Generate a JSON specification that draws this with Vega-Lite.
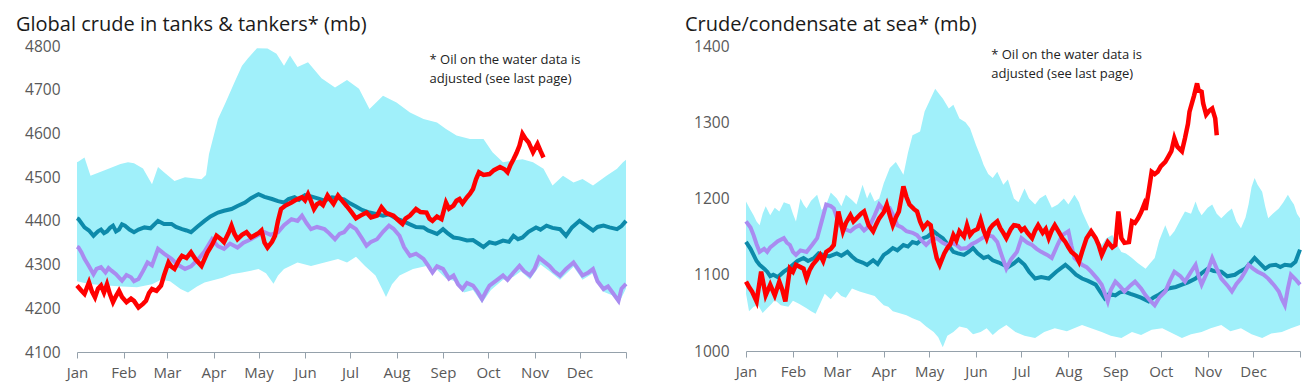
{
"$schema": "https://vega.github.io/schema/vega-lite/v6.json",
"background": "white",
"padding": {"left": 16, "top": 15, "right": 5, "bottom": 5},
"spacing": 51,
"config": {"view": {"stroke": null}, "font": "Open Sans",
 "axisX": {"title": null, "grid": false, "domainColor": "#95a1ab", "tickColor": "#95a1ab", "tickSize": 6, "labelFontSize": 15, "labelColor": "#595959", "labelPadding": 7, "labelFlush": false, "zindex": 1},
 "axisY": {"title": null, "grid": false, "domain": false, "ticks": false, "labelFontSize": 15.5, "labelColor": "#595959", "labelPadding": 17, "minExtent": 60, "maxExtent": 60, "format": "d"}
},
"datasets": {
"L": [
{"s":"hi","d":0,"v":4534},{"s":"hi","d":1,"v":4536},{"s":"hi","d":5,"v":4545},{"s":"hi","d":9,"v":4503},{"s":"hi","d":18,"v":4515},{"s":"hi","d":29,"v":4530},{"s":"hi","d":34,"v":4534},{"s":"hi","d":38,"v":4532},{"s":"hi","d":44,"v":4520},{"s":"hi","d":50,"v":4484},{"s":"hi","d":54,"v":4523},{"s":"hi","d":58,"v":4511},{"s":"hi","d":65,"v":4491},{"s":"hi","d":72,"v":4500},{"s":"hi","d":83,"v":4495},{"s":"hi","d":86,"v":4505},{"s":"hi","d":88,"v":4553},{"s":"hi","d":94,"v":4633},{"s":"hi","d":99,"v":4670},{"s":"hi","d":105,"v":4717},{"s":"hi","d":110,"v":4755},{"s":"hi","d":114,"v":4772},{"s":"hi","d":120,"v":4795},{"s":"hi","d":127,"v":4794},{"s":"hi","d":133,"v":4782},{"s":"hi","d":138,"v":4755},{"s":"hi","d":142,"v":4778},{"s":"hi","d":147,"v":4752},{"s":"hi","d":154,"v":4763},{"s":"hi","d":163,"v":4726},{"s":"hi","d":172,"v":4705},{"s":"hi","d":180,"v":4722},{"s":"hi","d":188,"v":4702},{"s":"hi","d":195,"v":4656},{"s":"hi","d":204,"v":4686},{"s":"hi","d":213,"v":4671},{"s":"hi","d":222,"v":4648},{"s":"hi","d":231,"v":4633},{"s":"hi","d":240,"v":4625},{"s":"hi","d":246,"v":4610},{"s":"hi","d":253,"v":4595},{"s":"hi","d":262,"v":4587},{"s":"hi","d":271,"v":4587},{"s":"hi","d":277,"v":4557},{"s":"hi","d":284,"v":4534},{"s":"hi","d":291,"v":4538},{"s":"hi","d":297,"v":4541},{"s":"hi","d":304,"v":4534},{"s":"hi","d":311,"v":4519},{"s":"hi","d":317,"v":4481},{"s":"hi","d":324,"v":4503},{"s":"hi","d":331,"v":4488},{"s":"hi","d":337,"v":4496},{"s":"hi","d":344,"v":4481},{"s":"hi","d":353,"v":4503},{"s":"hi","d":360,"v":4519},{"s":"hi","d":364,"v":4534},{"s":"hi","d":366,"v":4540},
{"s":"lo","d":0,"v":4262},{"s":"lo","d":5,"v":4258},{"s":"lo","d":10,"v":4255},{"s":"lo","d":20,"v":4252},{"s":"lo","d":30,"v":4250},{"s":"lo","d":40,"v":4248},{"s":"lo","d":50,"v":4255},{"s":"lo","d":56,"v":4265},{"s":"lo","d":62,"v":4262},{"s":"lo","d":69,"v":4244},{"s":"lo","d":74,"v":4236},{"s":"lo","d":80,"v":4250},{"s":"lo","d":85,"v":4259},{"s":"lo","d":92,"v":4265},{"s":"lo","d":97,"v":4270},{"s":"lo","d":103,"v":4278},{"s":"lo","d":110,"v":4282},{"s":"lo","d":116,"v":4286},{"s":"lo","d":121,"v":4290},{"s":"lo","d":126,"v":4280},{"s":"lo","d":131,"v":4256},{"s":"lo","d":134,"v":4275},{"s":"lo","d":138,"v":4290},{"s":"lo","d":147,"v":4305},{"s":"lo","d":156,"v":4297},{"s":"lo","d":165,"v":4305},{"s":"lo","d":174,"v":4313},{"s":"lo","d":180,"v":4305},{"s":"lo","d":186,"v":4318},{"s":"lo","d":192,"v":4297},{"s":"lo","d":199,"v":4275},{"s":"lo","d":204,"v":4240},{"s":"lo","d":206,"v":4226},{"s":"lo","d":210,"v":4255},{"s":"lo","d":215,"v":4275},{"s":"lo","d":224,"v":4290},{"s":"lo","d":233,"v":4297},{"s":"lo","d":240,"v":4288},{"s":"lo","d":246,"v":4268},{"s":"lo","d":252,"v":4262},{"s":"lo","d":258,"v":4236},{"s":"lo","d":264,"v":4242},{"s":"lo","d":270,"v":4212},{"s":"lo","d":276,"v":4242},{"s":"lo","d":284,"v":4265},{"s":"lo","d":291,"v":4272},{"s":"lo","d":296,"v":4285},{"s":"lo","d":302,"v":4266},{"s":"lo","d":309,"v":4300},{"s":"lo","d":315,"v":4285},{"s":"lo","d":322,"v":4265},{"s":"lo","d":331,"v":4295},{"s":"lo","d":337,"v":4265},{"s":"lo","d":344,"v":4280},{"s":"lo","d":351,"v":4238},{"s":"lo","d":358,"v":4228},{"s":"lo","d":361,"v":4210},{"s":"lo","d":366,"v":4245},
{"s":"avg","d":0,"v":4406},{"s":"avg","d":1,"v":4404},{"s":"avg","d":5,"v":4385},{"s":"avg","d":8,"v":4378},{"s":"avg","d":11,"v":4366},{"s":"avg","d":14,"v":4376},{"s":"avg","d":16,"v":4380},{"s":"avg","d":18,"v":4372},{"s":"avg","d":20,"v":4376},{"s":"avg","d":22,"v":4384},{"s":"avg","d":24,"v":4389},{"s":"avg","d":26,"v":4376},{"s":"avg","d":28,"v":4380},{"s":"avg","d":30,"v":4392},{"s":"avg","d":32,"v":4389},{"s":"avg","d":35,"v":4380},{"s":"avg","d":38,"v":4374},{"s":"avg","d":41,"v":4380},{"s":"avg","d":45,"v":4385},{"s":"avg","d":49,"v":4383},{"s":"avg","d":54,"v":4400},{"s":"avg","d":58,"v":4393},{"s":"avg","d":63,"v":4393},{"s":"avg","d":66,"v":4386},{"s":"avg","d":70,"v":4381},{"s":"avg","d":73,"v":4378},{"s":"avg","d":76,"v":4374},{"s":"avg","d":80,"v":4386},{"s":"avg","d":85,"v":4400},{"s":"avg","d":89,"v":4410},{"s":"avg","d":94,"v":4419},{"s":"avg","d":98,"v":4423},{"s":"avg","d":103,"v":4427},{"s":"avg","d":107,"v":4434},{"s":"avg","d":112,"v":4442},{"s":"avg","d":116,"v":4452},{"s":"avg","d":121,"v":4461},{"s":"avg","d":125,"v":4455},{"s":"avg","d":130,"v":4450},{"s":"avg","d":134,"v":4445},{"s":"avg","d":138,"v":4442},{"s":"avg","d":141,"v":4450},{"s":"avg","d":145,"v":4454},{"s":"avg","d":148,"v":4448},{"s":"avg","d":152,"v":4459},{"s":"avg","d":156,"v":4456},{"s":"avg","d":161,"v":4451},{"s":"avg","d":165,"v":4446},{"s":"avg","d":170,"v":4454},{"s":"avg","d":174,"v":4452},{"s":"avg","d":178,"v":4449},{"s":"avg","d":182,"v":4440},{"s":"avg","d":186,"v":4433},{"s":"avg","d":190,"v":4425},{"s":"avg","d":195,"v":4419},{"s":"avg","d":200,"v":4415},{"s":"avg","d":204,"v":4412},{"s":"avg","d":208,"v":4415},{"s":"avg","d":213,"v":4405},{"s":"avg","d":217,"v":4400},{"s":"avg","d":222,"v":4392},{"s":"avg","d":226,"v":4386},{"s":"avg","d":231,"v":4385},{"s":"avg","d":234,"v":4378},{"s":"avg","d":237,"v":4374},{"s":"avg","d":240,"v":4370},{"s":"avg","d":244,"v":4381},{"s":"avg","d":247,"v":4372},{"s":"avg","d":251,"v":4362},{"s":"avg","d":255,"v":4360},{"s":"avg","d":260,"v":4355},{"s":"avg","d":264,"v":4356},{"s":"avg","d":268,"v":4347},{"s":"avg","d":271,"v":4340},{"s":"avg","d":275,"v":4351},{"s":"avg","d":279,"v":4348},{"s":"avg","d":284,"v":4355},{"s":"avg","d":288,"v":4352},{"s":"avg","d":291,"v":4366},{"s":"avg","d":294,"v":4358},{"s":"avg","d":297,"v":4362},{"s":"avg","d":301,"v":4375},{"s":"avg","d":306,"v":4385},{"s":"avg","d":309,"v":4380},{"s":"avg","d":313,"v":4389},{"s":"avg","d":317,"v":4384},{"s":"avg","d":322,"v":4381},{"s":"avg","d":326,"v":4366},{"s":"avg","d":330,"v":4385},{"s":"avg","d":335,"v":4400},{"s":"avg","d":339,"v":4390},{"s":"avg","d":344,"v":4378},{"s":"avg","d":347,"v":4386},{"s":"avg","d":351,"v":4389},{"s":"avg","d":355,"v":4385},{"s":"avg","d":360,"v":4381},{"s":"avg","d":363,"v":4388},{"s":"avg","d":366,"v":4400},
{"s":"prev","d":0,"v":4341},{"s":"prev","d":1,"v":4339},{"s":"prev","d":3,"v":4328},{"s":"prev","d":5,"v":4313},{"s":"prev","d":8,"v":4296},{"s":"prev","d":11,"v":4278},{"s":"prev","d":13,"v":4290},{"s":"prev","d":16,"v":4294},{"s":"prev","d":19,"v":4282},{"s":"prev","d":21,"v":4292},{"s":"prev","d":23,"v":4286},{"s":"prev","d":26,"v":4278},{"s":"prev","d":30,"v":4263},{"s":"prev","d":33,"v":4276},{"s":"prev","d":36,"v":4271},{"s":"prev","d":38,"v":4262},{"s":"prev","d":41,"v":4267},{"s":"prev","d":44,"v":4285},{"s":"prev","d":47,"v":4305},{"s":"prev","d":50,"v":4298},{"s":"prev","d":54,"v":4336},{"s":"prev","d":58,"v":4325},{"s":"prev","d":63,"v":4313},{"s":"prev","d":67,"v":4300},{"s":"prev","d":72,"v":4290},{"s":"prev","d":76,"v":4296},{"s":"prev","d":81,"v":4313},{"s":"prev","d":85,"v":4330},{"s":"prev","d":90,"v":4358},{"s":"prev","d":94,"v":4342},{"s":"prev","d":98,"v":4336},{"s":"prev","d":102,"v":4348},{"s":"prev","d":107,"v":4339},{"s":"prev","d":111,"v":4350},{"s":"prev","d":116,"v":4358},{"s":"prev","d":120,"v":4366},{"s":"prev","d":125,"v":4374},{"s":"prev","d":129,"v":4368},{"s":"prev","d":134,"v":4374},{"s":"prev","d":138,"v":4390},{"s":"prev","d":143,"v":4404},{"s":"prev","d":147,"v":4400},{"s":"prev","d":150,"v":4412},{"s":"prev","d":153,"v":4395},{"s":"prev","d":156,"v":4381},{"s":"prev","d":160,"v":4386},{"s":"prev","d":165,"v":4381},{"s":"prev","d":168,"v":4372},{"s":"prev","d":172,"v":4358},{"s":"prev","d":175,"v":4370},{"s":"prev","d":178,"v":4374},{"s":"prev","d":182,"v":4390},{"s":"prev","d":186,"v":4381},{"s":"prev","d":190,"v":4360},{"s":"prev","d":193,"v":4343},{"s":"prev","d":196,"v":4352},{"s":"prev","d":200,"v":4358},{"s":"prev","d":204,"v":4375},{"s":"prev","d":208,"v":4389},{"s":"prev","d":211,"v":4382},{"s":"prev","d":215,"v":4366},{"s":"prev","d":218,"v":4340},{"s":"prev","d":222,"v":4320},{"s":"prev","d":226,"v":4325},{"s":"prev","d":231,"v":4313},{"s":"prev","d":234,"v":4298},{"s":"prev","d":237,"v":4282},{"s":"prev","d":240,"v":4296},{"s":"prev","d":244,"v":4290},{"s":"prev","d":248,"v":4268},{"s":"prev","d":251,"v":4275},{"s":"prev","d":254,"v":4255},{"s":"prev","d":257,"v":4244},{"s":"prev","d":260,"v":4258},{"s":"prev","d":264,"v":4252},{"s":"prev","d":267,"v":4238},{"s":"prev","d":270,"v":4221},{"s":"prev","d":273,"v":4240},{"s":"prev","d":275,"v":4252},{"s":"prev","d":279,"v":4262},{"s":"prev","d":284,"v":4275},{"s":"prev","d":287,"v":4265},{"s":"prev","d":291,"v":4282},{"s":"prev","d":295,"v":4297},{"s":"prev","d":298,"v":4285},{"s":"prev","d":302,"v":4275},{"s":"prev","d":305,"v":4290},{"s":"prev","d":308,"v":4316},{"s":"prev","d":312,"v":4305},{"s":"prev","d":315,"v":4297},{"s":"prev","d":318,"v":4285},{"s":"prev","d":322,"v":4275},{"s":"prev","d":326,"v":4290},{"s":"prev","d":331,"v":4305},{"s":"prev","d":334,"v":4290},{"s":"prev","d":337,"v":4275},{"s":"prev","d":341,"v":4282},{"s":"prev","d":344,"v":4290},{"s":"prev","d":347,"v":4262},{"s":"prev","d":351,"v":4244},{"s":"prev","d":354,"v":4250},{"s":"prev","d":357,"v":4236},{"s":"prev","d":361,"v":4217},{"s":"prev","d":363,"v":4245},{"s":"prev","d":366,"v":4256},
{"s":"cur","d":0,"v":4252},{"s":"cur","d":3,"v":4240},{"s":"cur","d":5,"v":4233},{"s":"cur","d":8,"v":4259},{"s":"cur","d":10,"v":4238},{"s":"cur","d":12,"v":4225},{"s":"cur","d":14,"v":4245},{"s":"cur","d":16,"v":4252},{"s":"cur","d":18,"v":4236},{"s":"cur","d":20,"v":4255},{"s":"cur","d":22,"v":4232},{"s":"cur","d":24,"v":4214},{"s":"cur","d":26,"v":4228},{"s":"cur","d":28,"v":4240},{"s":"cur","d":30,"v":4226},{"s":"cur","d":33,"v":4214},{"s":"cur","d":36,"v":4222},{"s":"cur","d":38,"v":4217},{"s":"cur","d":41,"v":4202},{"s":"cur","d":44,"v":4210},{"s":"cur","d":46,"v":4217},{"s":"cur","d":48,"v":4235},{"s":"cur","d":50,"v":4244},{"s":"cur","d":53,"v":4240},{"s":"cur","d":56,"v":4252},{"s":"cur","d":58,"v":4275},{"s":"cur","d":61,"v":4305},{"s":"cur","d":63,"v":4295},{"s":"cur","d":65,"v":4290},{"s":"cur","d":68,"v":4310},{"s":"cur","d":70,"v":4320},{"s":"cur","d":73,"v":4315},{"s":"cur","d":76,"v":4328},{"s":"cur","d":79,"v":4312},{"s":"cur","d":83,"v":4297},{"s":"cur","d":87,"v":4328},{"s":"cur","d":90,"v":4345},{"s":"cur","d":93,"v":4366},{"s":"cur","d":96,"v":4358},{"s":"cur","d":98,"v":4351},{"s":"cur","d":101,"v":4372},{"s":"cur","d":103,"v":4389},{"s":"cur","d":105,"v":4370},{"s":"cur","d":107,"v":4358},{"s":"cur","d":110,"v":4368},{"s":"cur","d":113,"v":4374},{"s":"cur","d":116,"v":4362},{"s":"cur","d":118,"v":4366},{"s":"cur","d":121,"v":4372},{"s":"cur","d":123,"v":4378},{"s":"cur","d":125,"v":4350},{"s":"cur","d":127,"v":4339},{"s":"cur","d":130,"v":4352},{"s":"cur","d":132,"v":4366},{"s":"cur","d":134,"v":4400},{"s":"cur","d":136,"v":4427},{"s":"cur","d":139,"v":4435},{"s":"cur","d":143,"v":4442},{"s":"cur","d":146,"v":4448},{"s":"cur","d":150,"v":4454},{"s":"cur","d":152,"v":4447},{"s":"cur","d":154,"v":4461},{"s":"cur","d":156,"v":4445},{"s":"cur","d":158,"v":4427},{"s":"cur","d":160,"v":4438},{"s":"cur","d":162,"v":4442},{"s":"cur","d":164,"v":4436},{"s":"cur","d":167,"v":4458},{"s":"cur","d":169,"v":4448},{"s":"cur","d":171,"v":4439},{"s":"cur","d":174,"v":4458},{"s":"cur","d":177,"v":4445},{"s":"cur","d":180,"v":4433},{"s":"cur","d":183,"v":4420},{"s":"cur","d":186,"v":4406},{"s":"cur","d":189,"v":4412},{"s":"cur","d":193,"v":4419},{"s":"cur","d":196,"v":4408},{"s":"cur","d":200,"v":4412},{"s":"cur","d":203,"v":4431},{"s":"cur","d":206,"v":4418},{"s":"cur","d":211,"v":4412},{"s":"cur","d":214,"v":4402},{"s":"cur","d":217,"v":4393},{"s":"cur","d":219,"v":4405},{"s":"cur","d":222,"v":4412},{"s":"cur","d":226,"v":4427},{"s":"cur","d":229,"v":4420},{"s":"cur","d":233,"v":4419},{"s":"cur","d":235,"v":4405},{"s":"cur","d":237,"v":4400},{"s":"cur","d":240,"v":4410},{"s":"cur","d":243,"v":4404},{"s":"cur","d":246,"v":4442},{"s":"cur","d":248,"v":4428},{"s":"cur","d":251,"v":4435},{"s":"cur","d":253,"v":4446},{"s":"cur","d":255,"v":4450},{"s":"cur","d":257,"v":4440},{"s":"cur","d":260,"v":4454},{"s":"cur","d":262,"v":4462},{"s":"cur","d":264,"v":4473},{"s":"cur","d":266,"v":4495},{"s":"cur","d":268,"v":4511},{"s":"cur","d":271,"v":4505},{"s":"cur","d":275,"v":4507},{"s":"cur","d":278,"v":4516},{"s":"cur","d":282,"v":4523},{"s":"cur","d":285,"v":4518},{"s":"cur","d":287,"v":4511},{"s":"cur","d":289,"v":4528},{"s":"cur","d":291,"v":4541},{"s":"cur","d":293,"v":4555},{"s":"cur","d":295,"v":4572},{"s":"cur","d":297,"v":4599},{"s":"cur","d":299,"v":4588},{"s":"cur","d":301,"v":4580},{"s":"cur","d":304,"v":4557},{"s":"cur","d":307,"v":4576},{"s":"cur","d":309,"v":4560},{"s":"cur","d":311,"v":4545}
],
"R": [
{"s":"hi","d":0,"v":1196},{"s":"hi","d":3,"v":1185},{"s":"hi","d":5,"v":1178},{"s":"hi","d":7,"v":1170},{"s":"hi","d":9,"v":1165},{"s":"hi","d":11,"v":1180},{"s":"hi","d":13,"v":1190},{"s":"hi","d":16,"v":1178},{"s":"hi","d":19,"v":1188},{"s":"hi","d":22,"v":1183},{"s":"hi","d":25,"v":1195},{"s":"hi","d":29,"v":1192},{"s":"hi","d":31,"v":1180},{"s":"hi","d":33,"v":1170},{"s":"hi","d":36,"v":1200},{"s":"hi","d":38,"v":1192},{"s":"hi","d":40,"v":1187},{"s":"hi","d":43,"v":1197},{"s":"hi","d":47,"v":1205},{"s":"hi","d":50,"v":1185},{"s":"hi","d":53,"v":1192},{"s":"hi","d":56,"v":1208},{"s":"hi","d":60,"v":1200},{"s":"hi","d":63,"v":1190},{"s":"hi","d":66,"v":1205},{"s":"hi","d":70,"v":1198},{"s":"hi","d":73,"v":1192},{"s":"hi","d":77,"v":1218},{"s":"hi","d":80,"v":1200},{"s":"hi","d":82,"v":1209},{"s":"hi","d":85,"v":1196},{"s":"hi","d":88,"v":1200},{"s":"hi","d":91,"v":1220},{"s":"hi","d":95,"v":1240},{"s":"hi","d":99,"v":1248},{"s":"hi","d":102,"v":1238},{"s":"hi","d":104,"v":1231},{"s":"hi","d":107,"v":1260},{"s":"hi","d":110,"v":1283},{"s":"hi","d":115,"v":1288},{"s":"hi","d":118,"v":1314},{"s":"hi","d":122,"v":1331},{"s":"hi","d":125,"v":1344},{"s":"hi","d":128,"v":1336},{"s":"hi","d":130,"v":1331},{"s":"hi","d":134,"v":1318},{"s":"hi","d":137,"v":1323},{"s":"hi","d":141,"v":1305},{"s":"hi","d":145,"v":1300},{"s":"hi","d":148,"v":1292},{"s":"hi","d":152,"v":1270},{"s":"hi","d":155,"v":1255},{"s":"hi","d":157,"v":1244},{"s":"hi","d":160,"v":1232},{"s":"hi","d":163,"v":1227},{"s":"hi","d":166,"v":1235},{"s":"hi","d":170,"v":1218},{"s":"hi","d":173,"v":1225},{"s":"hi","d":177,"v":1200},{"s":"hi","d":180,"v":1195},{"s":"hi","d":184,"v":1213},{"s":"hi","d":187,"v":1200},{"s":"hi","d":191,"v":1192},{"s":"hi","d":194,"v":1200},{"s":"hi","d":198,"v":1205},{"s":"hi","d":202,"v":1188},{"s":"hi","d":206,"v":1192},{"s":"hi","d":210,"v":1200},{"s":"hi","d":213,"v":1192},{"s":"hi","d":217,"v":1205},{"s":"hi","d":220,"v":1195},{"s":"hi","d":222,"v":1183},{"s":"hi","d":225,"v":1170},{"s":"hi","d":228,"v":1157},{"s":"hi","d":231,"v":1150},{"s":"hi","d":235,"v":1139},{"s":"hi","d":238,"v":1148},{"s":"hi","d":242,"v":1152},{"s":"hi","d":245,"v":1140},{"s":"hi","d":248,"v":1130},{"s":"hi","d":251,"v":1128},{"s":"hi","d":255,"v":1122},{"s":"hi","d":259,"v":1115},{"s":"hi","d":264,"v":1108},{"s":"hi","d":267,"v":1115},{"s":"hi","d":270,"v":1122},{"s":"hi","d":273,"v":1145},{"s":"hi","d":277,"v":1165},{"s":"hi","d":280,"v":1150},{"s":"hi","d":283,"v":1157},{"s":"hi","d":287,"v":1172},{"s":"hi","d":290,"v":1183},{"s":"hi","d":294,"v":1180},{"s":"hi","d":297,"v":1196},{"s":"hi","d":299,"v":1185},{"s":"hi","d":301,"v":1178},{"s":"hi","d":305,"v":1188},{"s":"hi","d":308,"v":1192},{"s":"hi","d":311,"v":1180},{"s":"hi","d":314,"v":1174},{"s":"hi","d":318,"v":1182},{"s":"hi","d":321,"v":1187},{"s":"hi","d":324,"v":1170},{"s":"hi","d":327,"v":1161},{"s":"hi","d":330,"v":1175},{"s":"hi","d":332,"v":1192},{"s":"hi","d":334,"v":1215},{"s":"hi","d":336,"v":1227},{"s":"hi","d":338,"v":1218},{"s":"hi","d":341,"v":1209},{"s":"hi","d":343,"v":1190},{"s":"hi","d":345,"v":1174},{"s":"hi","d":348,"v":1180},{"s":"hi","d":352,"v":1187},{"s":"hi","d":355,"v":1195},{"s":"hi","d":358,"v":1205},{"s":"hi","d":360,"v":1198},{"s":"hi","d":362,"v":1192},{"s":"hi","d":364,"v":1180},{"s":"hi","d":366,"v":1174},
{"s":"lo","d":0,"v":1075},{"s":"lo","d":2,"v":1052},{"s":"lo","d":5,"v":1058},{"s":"lo","d":8,"v":1060},{"s":"lo","d":11,"v":1050},{"s":"lo","d":14,"v":1056},{"s":"lo","d":17,"v":1062},{"s":"lo","d":19,"v":1067},{"s":"lo","d":23,"v":1060},{"s":"lo","d":28,"v":1058},{"s":"lo","d":31,"v":1066},{"s":"lo","d":35,"v":1062},{"s":"lo","d":40,"v":1056},{"s":"lo","d":43,"v":1052},{"s":"lo","d":46,"v":1049},{"s":"lo","d":49,"v":1062},{"s":"lo","d":52,"v":1075},{"s":"lo","d":56,"v":1068},{"s":"lo","d":60,"v":1078},{"s":"lo","d":63,"v":1072},{"s":"lo","d":66,"v":1070},{"s":"lo","d":70,"v":1082},{"s":"lo","d":75,"v":1078},{"s":"lo","d":80,"v":1075},{"s":"lo","d":85,"v":1072},{"s":"lo","d":88,"v":1066},{"s":"lo","d":91,"v":1060},{"s":"lo","d":94,"v":1058},{"s":"lo","d":97,"v":1052},{"s":"lo","d":101,"v":1050},{"s":"lo","d":106,"v":1047},{"s":"lo","d":110,"v":1043},{"s":"lo","d":115,"v":1039},{"s":"lo","d":119,"v":1032},{"s":"lo","d":124,"v":1025},{"s":"lo","d":127,"v":1018},{"s":"lo","d":130,"v":1005},{"s":"lo","d":133,"v":1020},{"s":"lo","d":137,"v":1025},{"s":"lo","d":141,"v":1032},{"s":"lo","d":146,"v":1030},{"s":"lo","d":150,"v":1022},{"s":"lo","d":155,"v":1025},{"s":"lo","d":159,"v":1030},{"s":"lo","d":163,"v":1021},{"s":"lo","d":167,"v":1028},{"s":"lo","d":172,"v":1034},{"s":"lo","d":178,"v":1025},{"s":"lo","d":184,"v":1020},{"s":"lo","d":191,"v":1017},{"s":"lo","d":197,"v":1025},{"s":"lo","d":204,"v":1030},{"s":"lo","d":212,"v":1026},{"s":"lo","d":222,"v":1034},{"s":"lo","d":228,"v":1030},{"s":"lo","d":235,"v":1025},{"s":"lo","d":241,"v":1020},{"s":"lo","d":248,"v":1017},{"s":"lo","d":255,"v":1025},{"s":"lo","d":261,"v":1021},{"s":"lo","d":268,"v":1028},{"s":"lo","d":275,"v":1030},{"s":"lo","d":281,"v":1024},{"s":"lo","d":288,"v":1017},{"s":"lo","d":294,"v":1022},{"s":"lo","d":301,"v":1025},{"s":"lo","d":307,"v":1030},{"s":"lo","d":314,"v":1034},{"s":"lo","d":320,"v":1026},{"s":"lo","d":327,"v":1030},{"s":"lo","d":334,"v":1022},{"s":"lo","d":341,"v":1017},{"s":"lo","d":347,"v":1023},{"s":"lo","d":354,"v":1025},{"s":"lo","d":360,"v":1030},{"s":"lo","d":366,"v":1034},
{"s":"avg","d":0,"v":1143},{"s":"avg","d":3,"v":1134},{"s":"avg","d":5,"v":1126},{"s":"avg","d":7,"v":1118},{"s":"avg","d":9,"v":1113},{"s":"avg","d":12,"v":1108},{"s":"avg","d":14,"v":1104},{"s":"avg","d":16,"v":1098},{"s":"avg","d":18,"v":1100},{"s":"avg","d":21,"v":1097},{"s":"avg","d":25,"v":1104},{"s":"avg","d":28,"v":1108},{"s":"avg","d":31,"v":1113},{"s":"avg","d":34,"v":1118},{"s":"avg","d":38,"v":1122},{"s":"avg","d":41,"v":1118},{"s":"avg","d":45,"v":1122},{"s":"avg","d":48,"v":1128},{"s":"avg","d":51,"v":1126},{"s":"avg","d":55,"v":1124},{"s":"avg","d":60,"v":1128},{"s":"avg","d":63,"v":1125},{"s":"avg","d":67,"v":1130},{"s":"avg","d":70,"v":1124},{"s":"avg","d":73,"v":1119},{"s":"avg","d":77,"v":1116},{"s":"avg","d":80,"v":1113},{"s":"avg","d":84,"v":1119},{"s":"avg","d":87,"v":1114},{"s":"avg","d":91,"v":1126},{"s":"avg","d":94,"v":1130},{"s":"avg","d":97,"v":1135},{"s":"avg","d":100,"v":1132},{"s":"avg","d":104,"v":1139},{"s":"avg","d":107,"v":1137},{"s":"avg","d":110,"v":1143},{"s":"avg","d":113,"v":1141},{"s":"avg","d":117,"v":1148},{"s":"avg","d":120,"v":1150},{"s":"avg","d":124,"v":1157},{"s":"avg","d":127,"v":1152},{"s":"avg","d":130,"v":1148},{"s":"avg","d":134,"v":1138},{"s":"avg","d":137,"v":1130},{"s":"avg","d":140,"v":1128},{"s":"avg","d":144,"v":1126},{"s":"avg","d":147,"v":1130},{"s":"avg","d":150,"v":1135},{"s":"avg","d":153,"v":1128},{"s":"avg","d":157,"v":1122},{"s":"avg","d":160,"v":1124},{"s":"avg","d":163,"v":1119},{"s":"avg","d":167,"v":1116},{"s":"avg","d":170,"v":1113},{"s":"avg","d":173,"v":1110},{"s":"avg","d":177,"v":1115},{"s":"avg","d":180,"v":1120},{"s":"avg","d":184,"v":1113},{"s":"avg","d":187,"v":1104},{"s":"avg","d":191,"v":1095},{"s":"avg","d":195,"v":1097},{"s":"avg","d":200,"v":1095},{"s":"avg","d":205,"v":1104},{"s":"avg","d":211,"v":1113},{"s":"avg","d":214,"v":1108},{"s":"avg","d":218,"v":1100},{"s":"avg","d":222,"v":1095},{"s":"avg","d":226,"v":1092},{"s":"avg","d":231,"v":1087},{"s":"avg","d":234,"v":1078},{"s":"avg","d":237,"v":1069},{"s":"avg","d":240,"v":1075},{"s":"avg","d":244,"v":1073},{"s":"avg","d":247,"v":1077},{"s":"avg","d":250,"v":1078},{"s":"avg","d":254,"v":1075},{"s":"avg","d":257,"v":1073},{"s":"avg","d":261,"v":1070},{"s":"avg","d":266,"v":1065},{"s":"avg","d":269,"v":1070},{"s":"avg","d":272,"v":1073},{"s":"avg","d":276,"v":1078},{"s":"avg","d":279,"v":1082},{"s":"avg","d":284,"v":1084},{"s":"avg","d":288,"v":1087},{"s":"avg","d":292,"v":1090},{"s":"avg","d":297,"v":1095},{"s":"avg","d":301,"v":1102},{"s":"avg","d":305,"v":1108},{"s":"avg","d":309,"v":1105},{"s":"avg","d":314,"v":1104},{"s":"avg","d":318,"v":1098},{"s":"avg","d":323,"v":1100},{"s":"avg","d":326,"v":1104},{"s":"avg","d":330,"v":1108},{"s":"avg","d":333,"v":1115},{"s":"avg","d":336,"v":1122},{"s":"avg","d":339,"v":1116},{"s":"avg","d":343,"v":1108},{"s":"avg","d":346,"v":1112},{"s":"avg","d":350,"v":1113},{"s":"avg","d":353,"v":1110},{"s":"avg","d":356,"v":1113},{"s":"avg","d":360,"v":1112},{"s":"avg","d":363,"v":1117},{"s":"avg","d":366,"v":1133},
{"s":"prev","d":0,"v":1170},{"s":"prev","d":3,"v":1162},{"s":"prev","d":5,"v":1152},{"s":"prev","d":7,"v":1140},{"s":"prev","d":9,"v":1130},{"s":"prev","d":12,"v":1134},{"s":"prev","d":14,"v":1130},{"s":"prev","d":16,"v":1136},{"s":"prev","d":18,"v":1139},{"s":"prev","d":21,"v":1144},{"s":"prev","d":25,"v":1148},{"s":"prev","d":27,"v":1142},{"s":"prev","d":29,"v":1139},{"s":"prev","d":31,"v":1130},{"s":"prev","d":33,"v":1126},{"s":"prev","d":36,"v":1132},{"s":"prev","d":40,"v":1130},{"s":"prev","d":44,"v":1140},{"s":"prev","d":47,"v":1148},{"s":"prev","d":50,"v":1170},{"s":"prev","d":53,"v":1192},{"s":"prev","d":56,"v":1190},{"s":"prev","d":58,"v":1187},{"s":"prev","d":60,"v":1175},{"s":"prev","d":62,"v":1165},{"s":"prev","d":65,"v":1160},{"s":"prev","d":69,"v":1157},{"s":"prev","d":72,"v":1162},{"s":"prev","d":75,"v":1165},{"s":"prev","d":78,"v":1158},{"s":"prev","d":82,"v":1165},{"s":"prev","d":85,"v":1178},{"s":"prev","d":88,"v":1192},{"s":"prev","d":91,"v":1185},{"s":"prev","d":95,"v":1187},{"s":"prev","d":98,"v":1175},{"s":"prev","d":100,"v":1165},{"s":"prev","d":103,"v":1162},{"s":"prev","d":106,"v":1157},{"s":"prev","d":110,"v":1155},{"s":"prev","d":113,"v":1152},{"s":"prev","d":116,"v":1145},{"s":"prev","d":119,"v":1139},{"s":"prev","d":122,"v":1145},{"s":"prev","d":126,"v":1148},{"s":"prev","d":130,"v":1142},{"s":"prev","d":133,"v":1139},{"s":"prev","d":136,"v":1142},{"s":"prev","d":139,"v":1139},{"s":"prev","d":142,"v":1134},{"s":"prev","d":146,"v":1135},{"s":"prev","d":149,"v":1140},{"s":"prev","d":152,"v":1143},{"s":"prev","d":156,"v":1148},{"s":"prev","d":159,"v":1152},{"s":"prev","d":163,"v":1150},{"s":"prev","d":166,"v":1143},{"s":"prev","d":169,"v":1125},{"s":"prev","d":172,"v":1108},{"s":"prev","d":175,"v":1120},{"s":"prev","d":179,"v":1130},{"s":"prev","d":182,"v":1148},{"s":"prev","d":186,"v":1142},{"s":"prev","d":189,"v":1139},{"s":"prev","d":192,"v":1134},{"s":"prev","d":195,"v":1130},{"s":"prev","d":199,"v":1126},{"s":"prev","d":202,"v":1122},{"s":"prev","d":206,"v":1140},{"s":"prev","d":209,"v":1152},{"s":"prev","d":213,"v":1157},{"s":"prev","d":215,"v":1138},{"s":"prev","d":217,"v":1122},{"s":"prev","d":222,"v":1113},{"s":"prev","d":225,"v":1110},{"s":"prev","d":228,"v":1104},{"s":"prev","d":232,"v":1095},{"s":"prev","d":235,"v":1087},{"s":"prev","d":239,"v":1065},{"s":"prev","d":241,"v":1080},{"s":"prev","d":244,"v":1091},{"s":"prev","d":247,"v":1085},{"s":"prev","d":250,"v":1078},{"s":"prev","d":254,"v":1086},{"s":"prev","d":257,"v":1091},{"s":"prev","d":261,"v":1082},{"s":"prev","d":264,"v":1073},{"s":"prev","d":267,"v":1066},{"s":"prev","d":270,"v":1060},{"s":"prev","d":273,"v":1070},{"s":"prev","d":277,"v":1078},{"s":"prev","d":280,"v":1092},{"s":"prev","d":283,"v":1104},{"s":"prev","d":287,"v":1098},{"s":"prev","d":290,"v":1091},{"s":"prev","d":294,"v":1104},{"s":"prev","d":297,"v":1113},{"s":"prev","d":299,"v":1098},{"s":"prev","d":301,"v":1087},{"s":"prev","d":305,"v":1105},{"s":"prev","d":308,"v":1122},{"s":"prev","d":311,"v":1108},{"s":"prev","d":314,"v":1095},{"s":"prev","d":318,"v":1086},{"s":"prev","d":321,"v":1078},{"s":"prev","d":324,"v":1088},{"s":"prev","d":327,"v":1095},{"s":"prev","d":330,"v":1105},{"s":"prev","d":332,"v":1113},{"s":"prev","d":335,"v":1108},{"s":"prev","d":338,"v":1104},{"s":"prev","d":342,"v":1100},{"s":"prev","d":345,"v":1095},{"s":"prev","d":349,"v":1086},{"s":"prev","d":352,"v":1078},{"s":"prev","d":354,"v":1068},{"s":"prev","d":356,"v":1060},{"s":"prev","d":358,"v":1082},{"s":"prev","d":360,"v":1100},{"s":"prev","d":363,"v":1094},{"s":"prev","d":366,"v":1087},
{"s":"cur","d":0,"v":1091},{"s":"cur","d":2,"v":1084},{"s":"cur","d":4,"v":1078},{"s":"cur","d":7,"v":1065},{"s":"cur","d":10,"v":1104},{"s":"cur","d":13,"v":1073},{"s":"cur","d":16,"v":1087},{"s":"cur","d":19,"v":1073},{"s":"cur","d":22,"v":1091},{"s":"cur","d":24,"v":1080},{"s":"cur","d":26,"v":1065},{"s":"cur","d":29,"v":1108},{"s":"cur","d":31,"v":1104},{"s":"cur","d":33,"v":1113},{"s":"cur","d":36,"v":1110},{"s":"cur","d":38,"v":1108},{"s":"cur","d":40,"v":1095},{"s":"cur","d":42,"v":1106},{"s":"cur","d":44,"v":1113},{"s":"cur","d":47,"v":1120},{"s":"cur","d":49,"v":1126},{"s":"cur","d":51,"v":1118},{"s":"cur","d":53,"v":1130},{"s":"cur","d":56,"v":1134},{"s":"cur","d":58,"v":1139},{"s":"cur","d":61,"v":1183},{"s":"cur","d":64,"v":1157},{"s":"cur","d":66,"v":1168},{"s":"cur","d":69,"v":1178},{"s":"cur","d":71,"v":1170},{"s":"cur","d":73,"v":1174},{"s":"cur","d":76,"v":1180},{"s":"cur","d":78,"v":1183},{"s":"cur","d":81,"v":1165},{"s":"cur","d":84,"v":1157},{"s":"cur","d":86,"v":1166},{"s":"cur","d":88,"v":1174},{"s":"cur","d":91,"v":1182},{"s":"cur","d":93,"v":1192},{"s":"cur","d":95,"v":1178},{"s":"cur","d":97,"v":1165},{"s":"cur","d":99,"v":1175},{"s":"cur","d":101,"v":1183},{"s":"cur","d":104,"v":1216},{"s":"cur","d":106,"v":1202},{"s":"cur","d":108,"v":1192},{"s":"cur","d":111,"v":1186},{"s":"cur","d":113,"v":1183},{"s":"cur","d":115,"v":1170},{"s":"cur","d":117,"v":1161},{"s":"cur","d":120,"v":1168},{"s":"cur","d":122,"v":1165},{"s":"cur","d":124,"v":1140},{"s":"cur","d":126,"v":1122},{"s":"cur","d":128,"v":1113},{"s":"cur","d":131,"v":1128},{"s":"cur","d":133,"v":1135},{"s":"cur","d":135,"v":1140},{"s":"cur","d":137,"v":1152},{"s":"cur","d":139,"v":1145},{"s":"cur","d":141,"v":1157},{"s":"cur","d":144,"v":1150},{"s":"cur","d":146,"v":1165},{"s":"cur","d":148,"v":1152},{"s":"cur","d":150,"v":1157},{"s":"cur","d":153,"v":1160},{"s":"cur","d":155,"v":1172},{"s":"cur","d":157,"v":1158},{"s":"cur","d":159,"v":1148},{"s":"cur","d":161,"v":1160},{"s":"cur","d":163,"v":1165},{"s":"cur","d":166,"v":1170},{"s":"cur","d":168,"v":1161},{"s":"cur","d":170,"v":1155},{"s":"cur","d":172,"v":1148},{"s":"cur","d":175,"v":1160},{"s":"cur","d":177,"v":1165},{"s":"cur","d":180,"v":1164},{"s":"cur","d":182,"v":1158},{"s":"cur","d":184,"v":1161},{"s":"cur","d":186,"v":1155},{"s":"cur","d":189,"v":1148},{"s":"cur","d":191,"v":1158},{"s":"cur","d":193,"v":1165},{"s":"cur","d":196,"v":1155},{"s":"cur","d":198,"v":1160},{"s":"cur","d":200,"v":1148},{"s":"cur","d":202,"v":1158},{"s":"cur","d":204,"v":1165},{"s":"cur","d":207,"v":1155},{"s":"cur","d":209,"v":1148},{"s":"cur","d":211,"v":1143},{"s":"cur","d":213,"v":1136},{"s":"cur","d":215,"v":1130},{"s":"cur","d":218,"v":1125},{"s":"cur","d":220,"v":1117},{"s":"cur","d":222,"v":1130},{"s":"cur","d":225,"v":1148},{"s":"cur","d":228,"v":1157},{"s":"cur","d":231,"v":1148},{"s":"cur","d":233,"v":1139},{"s":"cur","d":235,"v":1126},{"s":"cur","d":237,"v":1135},{"s":"cur","d":239,"v":1143},{"s":"cur","d":242,"v":1136},{"s":"cur","d":244,"v":1139},{"s":"cur","d":246,"v":1183},{"s":"cur","d":248,"v":1148},{"s":"cur","d":250,"v":1142},{"s":"cur","d":253,"v":1143},{"s":"cur","d":255,"v":1170},{"s":"cur","d":257,"v":1168},{"s":"cur","d":259,"v":1174},{"s":"cur","d":261,"v":1182},{"s":"cur","d":263,"v":1192},{"s":"cur","d":264,"v":1185},{"s":"cur","d":266,"v":1209},{"s":"cur","d":268,"v":1235},{"s":"cur","d":270,"v":1232},{"s":"cur","d":272,"v":1235},{"s":"cur","d":274,"v":1242},{"s":"cur","d":277,"v":1248},{"s":"cur","d":279,"v":1255},{"s":"cur","d":281,"v":1262},{"s":"cur","d":283,"v":1279},{"s":"cur","d":285,"v":1268},{"s":"cur","d":288,"v":1262},{"s":"cur","d":290,"v":1279},{"s":"cur","d":292,"v":1298},{"s":"cur","d":293,"v":1314},{"s":"cur","d":296,"v":1335},{"s":"cur","d":298,"v":1351},{"s":"cur","d":299,"v":1342},{"s":"cur","d":301,"v":1340},{"s":"cur","d":302,"v":1325},{"s":"cur","d":304,"v":1310},{"s":"cur","d":306,"v":1315},{"s":"cur","d":308,"v":1318},{"s":"cur","d":310,"v":1305},{"s":"cur","d":311,"v":1283}
]
},
"hconcat": [
{
 "width": 549, "height": 306,
 "title": {"text": "Global crude in tanks & tankers* (mb)", "anchor": "start", "dx": -1, "fontSize": 20, "fontWeight": "normal", "color": "#1a1a1a", "offset": 4},
 "data": {"name": "L"},
 "encoding": {"x": {"field": "d", "type": "quantitative", "scale": {"domain": [0, 366], "nice": false, "zero": false}, "axis": {"values": [0,31,60,91,121,152,182,213,244,274,305,335,366], "labelExpr": "datum.value >= 366 ? '' : timeFormat(datetime(2024,0,1+datum.value),'%b')"}}},
 "layer": [
  {"transform": [{"filter": "datum.s == 'hi'"}], "mark": {"type": "area", "color": "#A0F0FA"}, "encoding": {"y": {"field": "v", "type": "quantitative", "scale": {"domain": [4100, 4800], "nice": false, "zero": false}, "axis": {"values": [4100,4200,4300,4400,4500,4600,4700,4800]}}, "y2": {"datum": 4100}}},
  {"transform": [{"filter": "datum.s == 'lo'"}], "mark": {"type": "area", "color": "white"}, "encoding": {"y": {"field": "v", "type": "quantitative"}, "y2": {"datum": 4100}}},
  {"transform": [{"filter": "datum.s == 'prev'"}], "mark": {"type": "line", "color": "#A98BF0", "strokeWidth": 4}, "encoding": {"y": {"field": "v", "type": "quantitative"}}},
  {"transform": [{"filter": "datum.s == 'avg'"}], "mark": {"type": "line", "color": "#0D8AAA", "strokeWidth": 4}, "encoding": {"y": {"field": "v", "type": "quantitative"}}},
  {"transform": [{"filter": "datum.s == 'cur'"}], "mark": {"type": "line", "color": "#FF0000", "strokeWidth": 4.5}, "encoding": {"y": {"field": "v", "type": "quantitative"}}},
  {"data": {"values": [{"note": "* Oil on the water data is\nadjusted (see last page)", "d": 235, "v": 4781}]}, "mark": {"type": "text", "align": "left", "baseline": "top", "fontSize": 13, "lineHeight": 19, "lineBreak": "\n", "color": "#222"}, "encoding": {"text": {"field": "note"}, "y": {"field": "v", "type": "quantitative"}}}
 ]
},
{
 "width": 554, "height": 305,
 "title": {"text": "Crude/condensate at sea* (mb)", "anchor": "start", "dx": -1, "fontSize": 20, "fontWeight": "normal", "color": "#1a1a1a", "offset": 4},
 "data": {"name": "R"},
 "encoding": {"x": {"field": "d", "type": "quantitative", "scale": {"domain": [0, 366], "nice": false, "zero": false}, "axis": {"values": [0,31,60,91,121,152,182,213,244,274,305,335,366], "labelExpr": "datum.value >= 366 ? '' : timeFormat(datetime(2024,0,1+datum.value),'%b')"}}},
 "layer": [
  {"transform": [{"filter": "datum.s == 'hi'"}], "mark": {"type": "area", "color": "#A0F0FA"}, "encoding": {"y": {"field": "v", "type": "quantitative", "scale": {"domain": [1000, 1400], "nice": false, "zero": false}, "axis": {"values": [1000,1100,1200,1300,1400]}}, "y2": {"datum": 1000}}},
  {"transform": [{"filter": "datum.s == 'lo'"}], "mark": {"type": "area", "color": "white"}, "encoding": {"y": {"field": "v", "type": "quantitative"}, "y2": {"datum": 1000}}},
  {"transform": [{"filter": "datum.s == 'avg'"}], "mark": {"type": "line", "color": "#0D8AAA", "strokeWidth": 4}, "encoding": {"y": {"field": "v", "type": "quantitative"}}},
  {"transform": [{"filter": "datum.s == 'prev'"}], "mark": {"type": "line", "color": "#A98BF0", "strokeWidth": 4}, "encoding": {"y": {"field": "v", "type": "quantitative"}}},
  {"transform": [{"filter": "datum.s == 'cur'"}], "mark": {"type": "line", "color": "#FF0000", "strokeWidth": 4.5}, "encoding": {"y": {"field": "v", "type": "quantitative"}}},
  {"data": {"values": [{"note": "* Oil on the water data is\nadjusted (see last page)", "d": 162, "v": 1396}]}, "mark": {"type": "text", "align": "left", "baseline": "top", "fontSize": 13, "lineHeight": 19, "lineBreak": "\n", "color": "#222"}, "encoding": {"text": {"field": "note"}, "y": {"field": "v", "type": "quantitative"}}}
 ]
}
]
}
